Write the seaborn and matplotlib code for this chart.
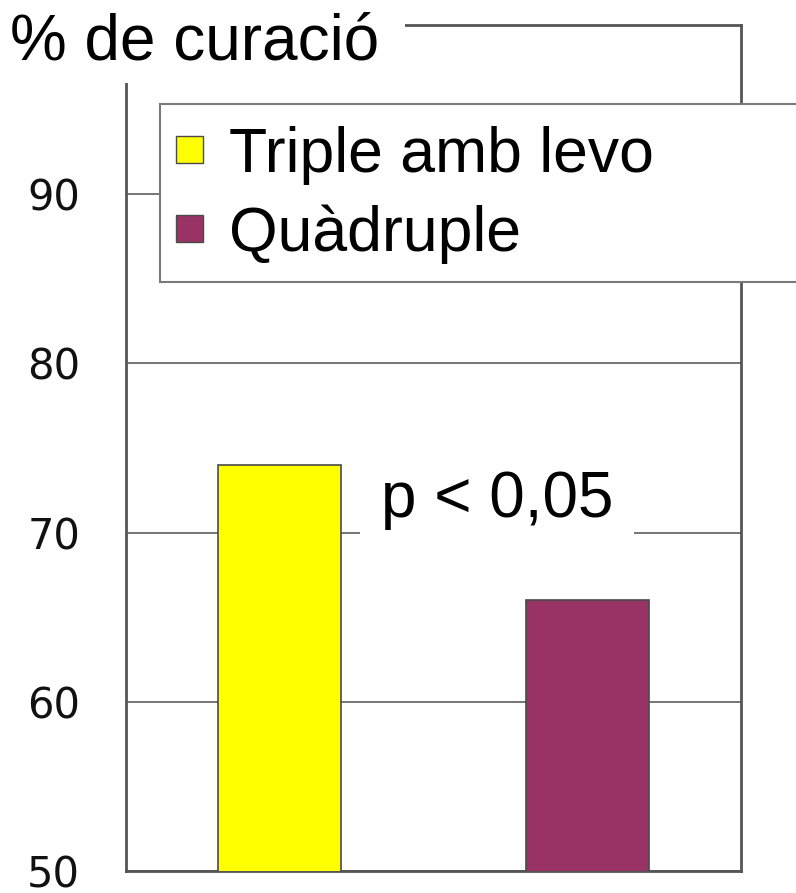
import matplotlib
matplotlib.use("Agg")
import matplotlib.pyplot as plt
from matplotlib.patches import Rectangle, Patch
import seaborn as sns
import pandas as pd

# Data
grups = ["Triple amb levo", "Quàdruple"]
curacio = [74, 66]
colors = ["#FFFF00", "#993366"]
yticks = [50, 60, 70, 80, 90]
titol = "% de curació"
nota = "p < 0,05"

sns.set_theme(style="white")
plt.rcParams["font.family"] = ["Liberation Sans", "DejaVu Sans"]
plt.rcParams["text.color"] = "black"

W, H = 796, 893
fig = plt.figure(figsize=(W / 100, H / 100), dpi=100)
fig.patch.set_facecolor("white")


def fx(px):
    return px / W


def fy(py):
    return 1 - py / H


ax = fig.add_axes([fx(126), fy(871), fx(741) - fx(126), fy(25) - fy(871)])

df = pd.DataFrame({"grup": grups, "curacio": curacio})
sns.barplot(data=df, x="grup", y="curacio", hue="grup", palette=colors,
            saturation=1, width=0.4, edgecolor="#4a4a4a", linewidth=1.2,
            legend=False, ax=ax, zorder=3)

ax.set_xlim(-0.5, 1.5)
ax.set_ylim(50, 100)
ax.set_yticks(yticks)
ax.set_yticklabels([str(t) for t in yticks], fontsize=30,
                   family="DejaVu Sans", color="#111111")
ax.set_xticks([])
ax.set_xlabel("")
ax.set_ylabel("")
ax.tick_params(axis="y", length=0, pad=33)
ax.grid(axis="y", color="#6a6a6a", linewidth=1.3, zorder=0)
ax.set_axisbelow(True)
for s in ax.spines.values():
    s.set_visible(True)
    s.set_color("#555555")
    s.set_linewidth(2)
ax.set_facecolor("white")

# significance note with a white backing box
ax.text(0.7065, 70.92, nota, fontsize=46, ha="center", va="baseline",
        color="black", zorder=4,
        bbox=dict(boxstyle="square,pad=0.32", facecolor="white", edgecolor="none"))

# white area behind the title
fig.add_artist(Rectangle((0, fy(83)), fx(405), 1 - fy(83), transform=fig.transFigure,
                         facecolor="white", edgecolor="none", zorder=1))
fig.text(fx(10), fy(59), titol, fontsize=46, ha="left", va="baseline",
         color="black", zorder=2)

# legend frame
fig.add_artist(Rectangle((fx(160), fy(282)), fx(660), fy(104) - fy(282),
                         transform=fig.transFigure, facecolor="white",
                         edgecolor="#7a7a7a", linewidth=1.5, zorder=3))
handles = [Patch(facecolor=c, edgecolor="#4a4a4a", linewidth=1.0) for c in colors]
leg = fig.legend(handles=handles, labels=grups, loc="upper left",
                 bbox_to_anchor=(fx(176), fy(126)), frameon=False, fontsize=45,
                 handlelength=0.43, handleheight=0.28, handletextpad=0.42,
                 labelspacing=0.31, borderpad=0, borderaxespad=0)
for t in leg.get_texts():
    t.set_color("black")
leg.set_zorder(6)

fig.savefig("out.png", dpi=100, facecolor="white")
